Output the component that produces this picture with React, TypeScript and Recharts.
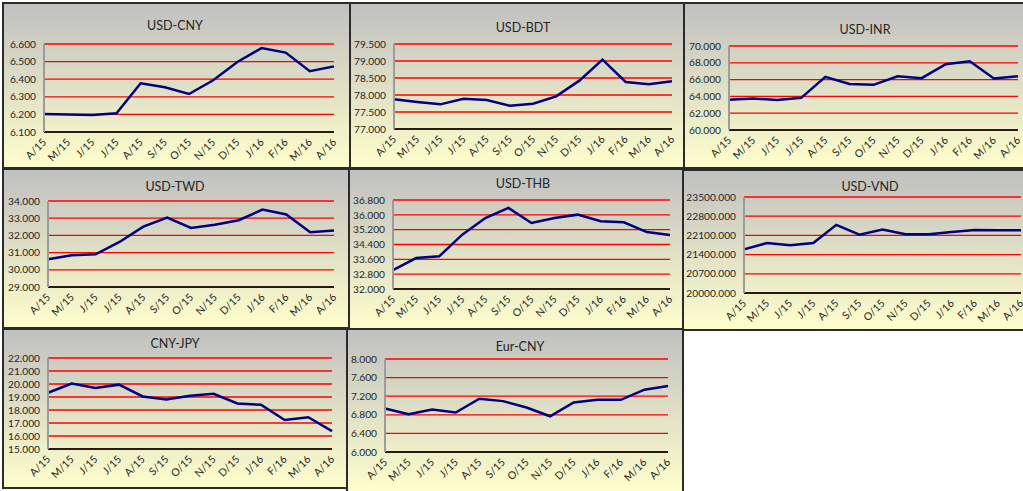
import { LineChart, Line, XAxis, YAxis, CartesianGrid } from "recharts"

// month labels on every x axis (Apr 2015 .. Apr 2016)
const months = ["A/15", "M/15", "J/15", "J/15", "A/15", "S/15", "O/15", "N/15", "D/15", "J/16", "F/16", "M/16", "A/16"]

const usdCny = [6.202, 6.2, 6.197, 6.206, 6.377, 6.354, 6.316, 6.394, 6.498, 6.577, 6.551, 6.445, 6.473]
const usdBdt = [77.873, 77.794, 77.725, 77.892, 77.853, 77.686, 77.745, 77.961, 78.422, 79.039, 78.382, 78.314, 78.402]
const usdInr = [63.6, 63.75, 63.56, 63.83, 66.32, 65.49, 65.38, 66.4, 66.17, 67.83, 68.18, 66.13, 66.4]
const usdTwd = [30.61, 30.84, 30.9, 31.62, 32.51, 33.03, 32.43, 32.62, 32.88, 33.5, 33.22, 32.18, 32.29]
const usdThb = [33.02, 33.67, 33.76, 34.93, 35.83, 36.37, 35.56, 35.83, 36.01, 35.65, 35.6, 35.07, 34.91]
const usdVnd = [21591, 21823, 21738, 21823, 22484, 22129, 22313, 22141, 22141, 22227, 22301, 22288, 22288]
const cnyJpy = [19.33, 20.03, 19.69, 19.95, 19.04, 18.81, 19.1, 19.25, 18.5, 18.4, 17.23, 17.44, 16.37]
const eurCny = [6.935, 6.812, 6.913, 6.848, 7.145, 7.094, 6.957, 6.768, 7.065, 7.123, 7.123, 7.341, 7.42]

const cnyTicks = [6.1, 6.2, 6.3, 6.4, 6.5, 6.6]
const bdtTicks = [77, 77.5, 78, 78.5, 79, 79.5]
const inrTicks = [60, 62, 64, 66, 68, 70]
const twdTicks = [29, 30, 31, 32, 33, 34]
const thbTicks = [32, 32.8, 33.6, 34.4, 35.2, 36, 36.8]
const vndTicks = [20000, 20700, 21400, 22100, 22800, 23500]
const jpyTicks = [15, 16, 17, 18, 19, 20, 21, 22]
const eurTicks = [6, 6.4, 6.8, 7.2, 7.6, 8]

// page coords: box = [left, top, width, height], plot = [left, right, top, bottom], title = [cx, cy]
const panels = [
  { title: "USD-CNY", values: usdCny, ticks: cnyTicks, box: [2, 2, 349, 167], plot: [44, 334, 44, 132], t: [175, 26] },
  { title: "USD-BDT", values: usdBdt, ticks: bdtTicks, box: [349, 2, 336, 167], plot: [394, 672, 44, 129], t: [523, 28] },
  { title: "USD-INR", values: usdInr, ticks: inrTicks, box: [683, 2, 342, 167], plot: [729, 1018, 46, 130], t: [865, 30] },
  { title: "USD-TWD", values: usdTwd, ticks: twdTicks, box: [2, 168, 348, 161], plot: [48, 334, 201, 287], t: [175, 187] },
  { title: "USD-THB", values: usdThb, ticks: thbTicks, box: [348, 168, 336, 163], plot: [393, 670, 200, 289], t: [523, 184] },
  { title: "USD-VND", values: usdVnd, ticks: vndTicks, box: [682, 169, 343, 162], plot: [744, 1021, 197, 293], t: [870, 187] },
  { title: "CNY-JPY", values: cnyJpy, ticks: jpyTicks, box: [2, 328, 346, 161], plot: [48, 332, 358, 449], t: [175, 344] },
  { title: "Eur-CNY", values: eurCny, ticks: eurTicks, box: [346, 328, 338, 165], plot: [385, 668, 359, 452], t: [520, 347] },
]

const FONT = "Lato, 'Liberation Sans', sans-serif"
const TEXT = "#262626"

function XTick(props: any) {
  const { x, y, payload } = props
  const px = x + 3
  const py = y + 11
  return (
    <text x={px} y={py} transform={`rotate(-45, ${px}, ${py})`} textAnchor="end" fontSize={10.5} fontFamily={FONT} fill={TEXT}>
      {months[payload.value]}
    </text>
  )
}

function YTick(props: any) {
  const { x, y, payload } = props
  return (
    <text x={x - 8} y={y} dy="0.36em" textAnchor="end" fontSize={10.2} fontFamily={FONT} fill={TEXT}>
      {payload.value.toFixed(3)}
    </text>
  )
}

function Panel({ title, values, ticks, box, plot, t }: any) {
  const [L, T, W, H] = box
  const ox = L + 2
  const oy = T + 2
  const cw = W - 4
  const ch = H - 4
  const left = plot[0] - ox
  const right = ox + cw - plot[1]
  const top = plot[2] - oy
  const bottom = plot[3] - oy
  const data = values.map((v: number, i: number) => ({ i, v }))
  return (
    <div
      style={{
        position: "absolute",
        left: L,
        top: T,
        width: W,
        height: H,
        boxSizing: "border-box",
        border: "2px solid #2b2b2b",
        background: "linear-gradient(to bottom, #c0c0c0 0%, #fefecc 100%)",
      }}
    >
      <div
        style={{
          position: "absolute",
          left: t[0] - ox - 60,
          top: t[1] - oy - 8,
          width: 120,
          lineHeight: "16px",
          textAlign: "center",
          fontFamily: FONT,
          fontSize: 12.5,
          color: TEXT,
        }}
      >
        {title}
      </div>
      <LineChart width={cw} height={ch} data={data} margin={{ top, right, bottom: 0, left: 0 }}>
        <CartesianGrid vertical={false} stroke="#ff0000" strokeWidth={1.3} />
        <XAxis
          dataKey="i"
          type="category"
          height={ch - bottom}
          interval={0}
          tickSize={0}
          tickMargin={0}
          tickLine={false}
          axisLine={{ stroke: "#2a1a12", strokeWidth: 2 }}
          tick={<XTick />}
        />
        <YAxis
          width={left}
          domain={[ticks[0], ticks[ticks.length - 1]]}
          ticks={ticks}
          interval={0}
          tickSize={0}
          tickMargin={0}
          tickLine={false}
          axisLine={{ stroke: "#9c9c9c", strokeWidth: 2 }}
          tick={<YTick />}
        />
        <Line dataKey="v" type="linear" stroke="#000080" strokeWidth={2.5} dot={false} isAnimationActive={false} />
      </LineChart>
    </div>
  )
}

export default function App() {
  return (
    <div style={{ position: "absolute", left: 0, top: 0, width: 1023, height: 491, overflow: "hidden", background: "#fff" }}>
      {panels.map((p) => (
        <Panel key={p.title} {...p} />
      ))}
    </div>
  )
}
